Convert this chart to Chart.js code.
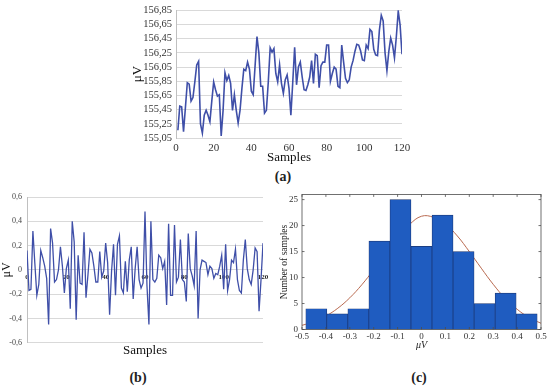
<!DOCTYPE html>
<html>
<head>
<meta charset="utf-8">
<script src="https://cdn.jsdelivr.net/npm/chart.js@4"></script>
<style>
    html, body { margin: 0; padding: 0; background: #fff; }
    body { position: relative; width: 550px; height: 387px; overflow: hidden; font-family: 'Liberation Serif', serif; }
    canvas { position: absolute; }
    #chart-a { left: 130px; top: 0; }
    #chart-b { left: 0; top: 185px; }
    #chart-c { left: 272px; top: 185px; }
    .panel-label { position: absolute; font-size: 14px; font-weight: bold; color: #222; transform: translate(-50%, -50%); }
</style>
</head>
<body>
<canvas id="chart-a" width="285" height="165"></canvas>
<canvas id="chart-b" width="272" height="175"></canvas>
<canvas id="chart-c" width="278" height="175"></canvas>
<div class="panel-label" style="left:283px; top:177px;">(a)</div>
<div class="panel-label" style="left:138px; top:378px;">(b)</div>
<div class="panel-label" style="left:419px; top:378px;">(c)</div>

<script>
// (a) raw signal, samples 1..120
const rawValues = [
    155.16, 155.50, 155.49, 155.14, 155.48, 155.83, 155.81, 155.57, 155.62, 155.84,
    156.08, 156.13, 155.25, 155.12, 155.37, 155.44, 155.37, 155.28, 155.57, 155.84,
    155.73, 155.64, 155.66, 155.08, 155.44, 155.97, 155.86, 155.93, 155.82, 155.44,
    155.66, 155.44, 155.26, 155.44, 155.75, 156.02, 156.00, 156.12, 156.02, 155.71,
    155.66, 156.07, 156.48, 156.25, 155.78, 155.78, 155.40, 155.44, 155.84, 156.32,
    156.26, 156.31, 155.96, 155.84, 156.08, 155.82, 155.68, 155.87, 155.94, 155.75,
    155.37, 155.84, 156.33, 155.80, 156.05, 156.12, 155.91, 155.73, 155.72, 155.80,
    155.91, 156.14, 155.82, 156.23, 156.21, 155.76, 156.07, 156.12, 156.12, 156.36,
    156.36, 155.85, 155.96, 156.05, 156.02, 155.78, 155.76, 156.36, 156.12, 155.89,
    155.83, 155.87, 156.05, 156.14, 156.27, 156.37, 156.36, 156.28, 156.15, 156.14,
    156.36, 156.31, 156.58, 156.55, 156.30, 156.22, 156.21, 156.57, 156.78, 156.70,
    156.25, 156.00, 156.27, 156.46, 156.36, 156.18, 156.48, 156.84, 156.64, 156.23
];
const rawYTicks = [155.05, 155.25, 155.45, 155.65, 155.85, 156.05, 156.25, 156.45, 156.65, 156.85];
const sampleTicks = [0, 20, 40, 60, 80, 100, 120];

// (b) noise after detrending, samples 0..120
const noiseValues = [
    0.16, -0.17, -0.16, 0.32, 0.05, -0.21, -0.12, 0.16, 0.10, 0.03,
    -0.07, -0.45, 0.34, 0.22, -0.10, -0.08, 0.00, 0.19, 0.03, -0.19,
    0.01, 0.08, -0.32, 0.40, 0.23, -0.41, 0.12, -0.11, -0.12, 0.31,
    -0.23, -0.04, 0.17, 0.14, 0.03, -0.10, -0.10, 0.15, -0.06, -0.01,
    0.22, 0.06, -0.37, -0.01, 0.21, -0.21, 0.21, 0.28, -0.15, -0.19,
    0.07, -0.18, 0.08, 0.19, -0.24, 0.01, 0.19, -0.08, -0.15, -0.11,
    0.48, -0.13, -0.45, 0.40, -0.08, -0.10, -0.07, 0.12, 0.10, 0.01,
    0.07, -0.29, 0.38, -0.21, -0.21, 0.37, -0.10, -0.06, 0.25, -0.08,
    -0.10, -0.26, 0.30, 0.01, -0.05, -0.13, 0.32, -0.40, 0.00, 0.08,
    0.07, 0.06, -0.04, 0.03, 0.01, -0.07, -0.03, -0.04, 0.03, 0.12,
    -0.16, 0.21, -0.17, -0.08, 0.08, 0.06, 0.17, -0.08, -0.17, -0.19,
    0.08, 0.25, 0.01, -0.08, -0.12, 0.00, 0.18, 0.15, -0.34, -0.08,
    0.22
];
const noiseYTicks = [-0.6, -0.4, -0.2, 0, 0.2, 0.4, 0.6];

// (c) histogram of the noise + normal fit
const binCenters = [-0.44, -0.352, -0.264, -0.176, -0.088, 0, 0.088, 0.176, 0.264, 0.352, 0.44];
const binCounts = [4, 3, 4, 17, 25, 16, 22, 15, 5, 7, 3];
const fitX = [-0.5, -0.45, -0.4, -0.35, -0.3, -0.25, -0.2, -0.15, -0.1, -0.05, 0,
              0.05, 0.1, 0.15, 0.2, 0.25, 0.3, 0.35, 0.4, 0.45, 0.5];
const fitY = [0.8, 1.5, 2.6, 4.1, 6.1, 8.6, 11.5, 14.6, 17.6, 20.2, 21.8,
              21.6, 20.3, 18.0, 15.0, 11.8, 8.7, 6.0, 3.9, 2.3, 1.2];
const histXTicks = [-0.5, -0.4, -0.3, -0.2, -0.1, 0, 0.1, 0.2, 0.3, 0.4, 0.5];
const histYTicks = [0, 5, 10, 15, 20, 25];

const SERIF = "'Liberation Serif', 'Times New Roman', serif";
const LINE_BLUE = '#3f4fa8';

const useTicks = list => scale => { scale.ticks = list.map(v => ({ value: v })); };
const commaDec = digits => v => (v === 0 ? '0' : v.toFixed(digits).replace('.', ','));

// MATLAB-like box with inward ticks for panel (c)
const boxPlugin = {
    id: 'box',
    afterDraw(chart) {
        const { ctx, chartArea: a, scales } = chart;
        ctx.save();
        ctx.strokeStyle = '#4d4d4d';
        ctx.lineWidth = 0.8;
        ctx.strokeRect(a.left, a.top, a.right - a.left, a.bottom - a.top);
        ctx.beginPath();
        scales.x.ticks.forEach(t => {
            const px = scales.x.getPixelForValue(t.value);
            ctx.moveTo(px, a.bottom); ctx.lineTo(px, a.bottom - 2.5);
            ctx.moveTo(px, a.top); ctx.lineTo(px, a.top + 2.5);
        });
        scales.y.ticks.forEach(t => {
            const py = scales.y.getPixelForValue(t.value);
            ctx.moveTo(a.left, py); ctx.lineTo(a.left + 2.5, py);
            ctx.moveTo(a.right, py); ctx.lineTo(a.right - 2.5, py);
        });
        ctx.stroke();
        ctx.restore();
    }
};

const noChrome = { legend: { display: false }, tooltip: { enabled: false } };

// ---- (a)
new Chart(document.getElementById('chart-a'), {
    type: 'line',
    data: {
        datasets: [{
            data: rawValues.map((v, i) => ({ x: i + 1, y: v })),
            borderColor: LINE_BLUE,
            borderWidth: 1.6,
            pointRadius: 0,
            tension: 0
        }]
    },
    options: {
        responsive: false,
        animation: false,
        layout: { padding: { top: 0, right: 13, left: 0, bottom: 0 } },
        plugins: noChrome,
        scales: {
            x: {
                type: 'linear', min: 0, max: 120,
                afterBuildTicks: useTicks(sampleTicks),
                afterFit: s => { s.height = 27; },
                grid: { display: false, drawTicks: false },
                border: { display: false },
                ticks: { autoSkip: false, maxRotation: 0, color: '#333', padding: 4, font: { family: SERIF, size: 11 } },
                title: { display: true, text: 'Samples', color: '#111', padding: 0, font: { family: SERIF, size: 13 } }
            },
            y: {
                min: 155.05, max: 156.85,
                afterBuildTicks: useTicks(rawYTicks),
                afterFit: s => { s.width = 46; },
                grid: { color: '#d9d9d9', drawTicks: false },
                border: { display: true, color: '#c0c0c0' },
                ticks: { autoSkip: false, color: '#333', padding: 4, callback: v => v.toFixed(2).replace('.', ','), font: { family: SERIF, size: 10.5 } },
                title: { display: true, text: 'μV', color: '#111', padding: 0, font: { family: SERIF, size: 13 } }
            }
        }
    }
});

// ---- (b)
new Chart(document.getElementById('chart-b'), {
    type: 'line',
    data: {
        datasets: [{
            data: noiseValues.map((v, i) => ({ x: i, y: v })),
            borderColor: LINE_BLUE,
            borderWidth: 1.3,
            pointRadius: 0,
            tension: 0
        }]
    },
    options: {
        responsive: false,
        animation: false,
        layout: { padding: { top: 12, right: 9, left: 0, bottom: 0 } },
        plugins: noChrome,
        scales: {
            x: {
                type: 'linear', min: 0, max: 120,
                position: { y: 0 },
                afterBuildTicks: useTicks(sampleTicks),
                grid: { display: false, drawTicks: false },
                border: { display: false },
                ticks: { autoSkip: false, maxRotation: 0, color: '#222', padding: 3, font: { family: SERIF, size: 7, weight: 'bold' } }
            },
            x2: {
                type: 'linear', position: 'bottom', min: 0, max: 120,
                afterFit: s => { s.height = 17.3; },
                grid: { display: false, drawTicks: false },
                border: { display: false },
                ticks: { display: false },
                title: { display: true, text: 'Samples', color: '#111', padding: { top: 0, bottom: 2 }, font: { family: SERIF, size: 13 } }
            },
            y: {
                min: -0.6, max: 0.6,
                afterBuildTicks: useTicks(noiseYTicks),
                afterFit: s => { s.width = 27; },
                grid: { color: '#d9d9d9', drawTicks: false },
                border: { display: true, color: '#c0c0c0' },
                ticks: { autoSkip: false, color: '#444', padding: 5, callback: commaDec(1), font: { family: SERIF, size: 8 } },
                title: { display: true, text: 'μV', color: '#111', padding: 0, font: { family: SERIF, size: 12 } }
            }
        }
    }
});

// ---- (c)
new Chart(document.getElementById('chart-c'), {
    data: {
        datasets: [
            {
                type: 'bar',
                order: 0,
                data: binCenters.map((c, i) => ({ x: c, y: binCounts[i] })),
                backgroundColor: '#1f5cc0',
                borderColor: '#1a3470',
                borderWidth: 0.7,
                barPercentage: 1,
                categoryPercentage: 1
            },
            {
                type: 'line',
                order: 1,
                data: fitX.map((x, i) => ({ x: x, y: fitY[i] })),
                borderColor: '#b8694f',
                borderWidth: 1,
                pointRadius: 0,
                tension: 0.4
            }
        ]
    },
    plugins: [boxPlugin],
    options: {
        responsive: false,
        animation: false,
        layout: { padding: { top: 9, right: 9, left: 0, bottom: 0 } },
        plugins: noChrome,
        scales: {
            x: {
                type: 'linear', min: -0.5, max: 0.5, offset: false,
                afterBuildTicks: useTicks(histXTicks),
                afterFit: s => { s.height = 30.5; },
                grid: { display: false, drawTicks: false },
                border: { display: false },
                ticks: { autoSkip: false, maxRotation: 0, color: '#333', padding: 2, callback: v => (v === 0 ? '0' : v.toFixed(1)), font: { family: SERIF, size: 9 } },
                title: { display: true, text: 'μV', color: '#222', padding: { top: 0, bottom: 9 }, font: { family: SERIF, size: 10, style: 'italic' } }
            },
            y: {
                min: 0, max: 26,
                afterBuildTicks: useTicks(histYTicks),
                afterFit: s => { s.width = 30; },
                grid: { display: false, drawTicks: false },
                border: { display: false },
                ticks: { autoSkip: false, color: '#333', padding: 4, font: { family: SERIF, size: 9 } },
                title: { display: true, text: 'Number of samples', color: '#222', padding: { top: 7, bottom: 0 }, font: { family: SERIF, size: 9.5 } }
            }
        }
    }
});
</script>
</body>
</html>
